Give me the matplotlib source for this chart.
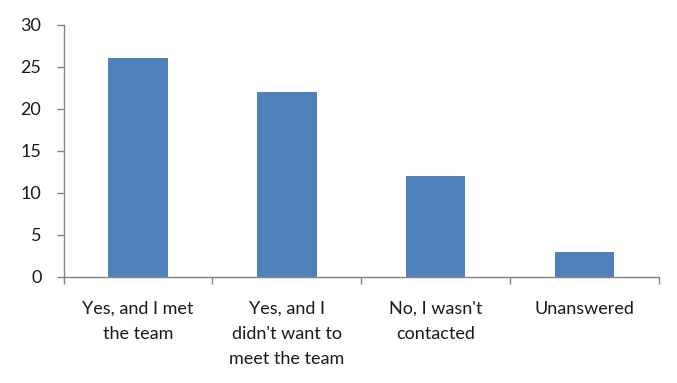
import numpy as np
import matplotlib.pyplot as plt

# Réponses au questionnaire
categories = ["Yes, and I met\nthe team", "Yes, and I\ndidn't want to\nmeet the team",
              "No, I wasn't\ncontacted", "Unanswered"]
valeurs = [26, 22, 12, 3]
graduations_y = [0, 5, 10, 15, 20, 25, 30]

couleur_barre = "#4F81BD"
couleur_axe = "#8C8276"

plt.rcParams['font.family'] = ['Lato', 'DejaVu Sans']

fig = plt.figure(figsize=(6.77, 3.83), dpi=100)
ax = fig.add_axes([0.094, 0.277, 0.879, 0.658])

x = np.arange(len(categories))
ax.bar(x, valeurs, width=0.4, color=couleur_barre)

ax.set_xlim(-0.5, len(categories) - 0.5)
ax.set_ylim(0, 30)
ax.set_yticks(graduations_y)

# graduations majeures entre les catégories, étiquettes au centre
ax.set_xticks(np.arange(len(categories) + 1) - 0.5)
ax.set_xticklabels([])
ax.set_xticks(x, minor=True)
ax.set_xticklabels(categories, minor=True, fontsize=13, color="#1a1a1a",
                   linespacing=1.72)
ax.tick_params(axis='x', which='minor', length=0, pad=17)
ax.tick_params(axis='x', which='major', length=5, width=1, color=couleur_axe, direction='out')
ax.tick_params(axis='y', length=5, width=1, color=couleur_axe, direction='out',
               labelsize=13, labelcolor="#1a1a1a", pad=11)

for cote in ["top", "right"]:
    ax.spines[cote].set_visible(False)
for cote in ["left", "bottom"]:
    ax.spines[cote].set_color(couleur_axe)
    ax.spines[cote].set_linewidth(1)

fig.savefig("out.png", dpi=100)
